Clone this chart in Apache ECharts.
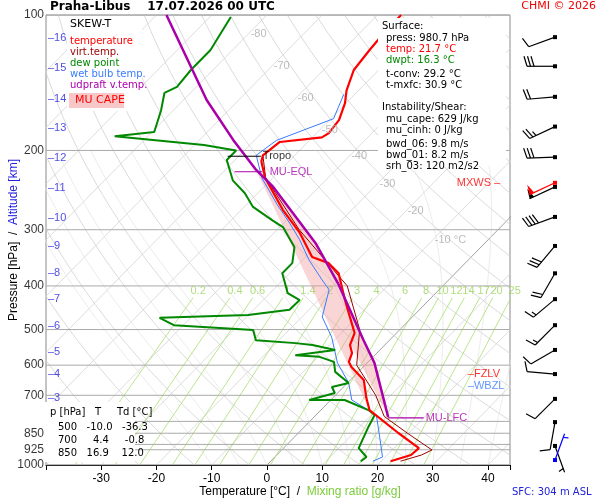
<!DOCTYPE html>
<html><head><meta charset="utf-8">
<script src="https://cdn.jsdelivr.net/npm/echarts@6/dist/echarts.min.js"></script>
<style>html,body{margin:0;padding:0;background:#fff}#c{width:600px;height:500px}</style>
</head><body><div id="c"></div>
<script>
// ---- data ----
var tempP = [980.7,950,917,849,755,710,647,606,590,564,541,509,430,375,356,345,305,271,230,212,205,191.5,187,183,171,157,147,132.5,119.6,108,100];
var tempT = [21.7,24.3,24.5,18.1,8.8,6.1,2.4,-2.1,-3.5,-4.5,-6.3,-7.6,-15.2,-21.1,-24.7,-28.8,-35.3,-42.5,-51.4,-54.9,-55.8,-55.1,-48.3,-47.8,-48.3,-50.2,-52.2,-54.5,-55.2,-55.7,-55.7];
var virtP = [980.7,950,926,850,780,700,600,500,400,300,230,205];
var virtT = [23.5,26.2,27.2,19.8,12.6,7.3,-1.5,-7.3,-17.3,-36.0,-51.3,-55.8];
var dewP = [980.7,960,917,823,774,755,717,717,692,671,657,621,590,575,570,555,541,536,528,501,489,471,464,452,430,415,375,356,328,296,286,267,249,233,210,200,194.5,186,182,163,149,144.5,132.5,119.6,101];
var dewT = [16.3,16.6,13.6,11.6,10.6,8.6,2.5,-3.9,-0.5,-2.1,0.2,-4.2,-6.2,-9.7,-14.4,-8.1,-13.1,-16.5,-24.2,-26.5,-41.7,-45.6,-30.1,-23.5,-23.4,-26.8,-31.3,-31.3,-33.75,-39.4,-42.5,-48.4,-52.3,-56.8,-61.5,-61.5,-68.3,-86,-79.6,-82.2,-84.7,-83.5,-84,-84,-86.2];
var wbP = [980.7,960,836,774,717,657,593,520,469,408,388,350.5,316,290,264.5,230,205,190,170,150];
var wbT = [18.5,19.5,14,10.9,3.8,0.2,-5.4,-11,-16.3,-19.9,-22.9,-28.8,-34.1,-38.9,-44.3,-52,-57,-56,-49.5,-52];
var parP = [782,593,528,398,321,275,241,221,189.5,154.5,100];
var parT = [13.4,1.3,-4.7,-19,-30.7,-40.2,-48.3,-54.4,-63.9,-75.8,-98.2];
var isobars = [100,200,300,400,500,600,700,800,850,900,925,1000];
var pLabels = [100,200,300,400,500,600,700,850,925,1000];
var kmVals = [1,2,3,4,5,6,7,8,9,10,11,12,13,14,15,16];
var kmP = [912,807,710,628,560,492,427,375,326,283,242,208,178,154,131,112.5];
var mixVals = [0.2,0.4,0.6,1,1.4,2,3,4,6,8,10,12,14,17,20,25];
var isoLabT = [-80,-70,-60,-50,-40,-30,-20,-10];
var isoLabP = [110,130,153,180,206,237,273,316];
var windP = [112,130,152,177,207,241,281,326,375,428,489,555,628,713,803,907];
var windDir = [250,270,265,245,268,245,250,220,210,230,225,240,275,225,190,160];
var windSpd = [10,30,20,25,30,50,40,30,20,15,15,10,10,10,10,5];
var mxwsP = 236, mxwsDir = 245, mxwsSpd = 50;
var sfcWindP = 975, sfcWindDir = 20, sfcWindSpd = 5;
var tropoP = 206, eqlP = 223, lfcP = 786, fzlvP = 628, wbzlP = 667;

// ---- helpers ----
function sk(T,p){return T + 80*Math.log10(1000/p);}
function prof(P,T){return P.map(function(p,i){return [sk(T[i],p),p];});}
var series = [];
function ln(data,color,w,z){series.push({type:'line',data:data,symbol:'none',silent:true,lineStyle:{color:color,width:w},z:z,animation:false});}
var plevs=[];for(var p=1000;p>=100;p-=10)plevs.push(p);
for(var t=-130;t<=40;t+=10){ln([[sk(t,1000),1000],[sk(t,100),100]], t===0?'#888':'#d4d4d4', 0.8, 1);}
for(var th=240;th<=480;th+=10){ln(plevs.map(function(p){return [sk(th*Math.pow(p/1000,0.2857)-273.15,p),p];}),'#d0d0d0',0.8,1);}
function rs(Tk,p){var tc=Tk-273.15;var es=6.112*Math.exp(17.67*tc/(tc+243.5));return 0.622*es/(p-es);}
for(var t0=-10;t0<=40;t0+=5){var Tk=t0+273.15,pts=[];for(var p=1000;p>=200;p-=5){pts.push([sk(Tk-273.15,p),p]);var r=rs(Tk,p);var d=(287*Tk+2.5e6*r)/(p*(1004+2.5e6*2.5e6*r*0.622/(287*Tk*Tk)));Tk-=d*5;}ln(pts,'#e6e6e6',0.8,1);}
function tdw(w,p){var e=w*p/(622+w);var a=Math.log(e/6.112);return 243.5*a/(17.67-a);}
var mixLab=[];
mixVals.forEach(function(w){ln([[sk(tdw(w,1000),1000),1000],[sk(tdw(w,425),425),425]],'#a8e070',0.8,2);mixLab.push({value:[sk(tdw(w,410),410),410],name:String(w)});});
series.push({type:'scatter',data:mixLab,symbolSize:0,clip:false,silent:true,label:{show:true,formatter:'{b}',color:'#9cd65c',fontSize:11},z:3});
isobars.forEach(function(p){ln([[-40,p],[44,p]],'#aaaaaa',1,2);});
var capePoly=[];
parP.forEach(function(p,i){if(p<=782&&p>=221)capePoly.push([sk(parT[i],p),p]);});
tempP.forEach(function(p,i){if(p<782&&p>221)capePoly.push([sk(tempT[i],p),p]);});
series.push({type:'custom',silent:true,z:4,data:[0],renderItem:function(params,api){
  return {type:'polygon',shape:{points:capePoly.map(function(d){return api.coord(d);})},style:{fill:'rgba(240,150,150,0.4)',stroke:'none'}};}});
ln(prof(wbP,wbT),'#3a7bff',1,5);
ln(prof(dewP,dewT),'#008800',2,6);
ln(prof(virtP,virtT),'#990000',1,6);
ln(prof(tempP,tempT),'#ff0000',2.2,7);
ln(prof(parP,parT),'#aa00aa',2.5,8);
ln([[sk(-62,tropoP),tropoP],[sk(-56,tropoP),tropoP]],'#000',1,9);
ln([[sk(-58,eqlP),eqlP],[sk(-53,eqlP),eqlP]],'#aa00aa',1,9);
ln([[sk(13.5,lfcP),lfcP],[sk(20,lfcP),lfcP]],'#aa00aa',1.2,9);
function lab(x,p,text,color,size,pos){return {value:[x,p],label:{formatter:text,color:color,fontSize:size||11,position:pos||'right'}};}
series.push({type:'scatter',symbolSize:0,clip:false,silent:true,z:10,label:{show:true,distance:2},data:[
  lab(sk(-56,tropoP),tropoP,'Tropo','#000',11),
  lab(sk(-52,eqlP),eqlP,'MU-EQL','#aa00aa',11),
  lab(sk(20,lfcP),lfcP,'MU-LFC','#aa00aa',11),
  lab(36,fzlvP,'–FZLV','#ff0000',11),
  lab(36,wbzlP,'–WBZL','#3a7bff',11),
  lab(34,mxwsP,'MXWS –','#ff0000',11)
].concat(isoLabT.map(function(t,i){return lab(sk(t,isoLabP[i]),isoLabP[i],(t===-10?'-10 °C':String(t)),'#aaaaaa',11);}))
 .concat(pLabels.map(function(p){return lab(-40,p,String(p),'#000',12,'left');}))
 .concat(kmVals.map(function(k,i){return lab(-40,kmP[i],'–'+k,'#2222dd',11);}))
});
var windData=windP.map(function(p,i){return {value:[0.5,p],b:{dir:windDir[i],spd:windSpd[i],color:'#000'}};});
windData.push({value:[0.5,mxwsP],b:{dir:mxwsDir,spd:mxwsSpd,color:'#ff0000'}});
windData.push({value:[0.5,sfcWindP],b:{dir:sfcWindDir,spd:sfcWindSpd,color:'#0000ff'}});
series.push({type:'custom',xAxisIndex:1,yAxisIndex:1,silent:true,z:10,data:windData,renderItem:function(params,api){
  var d=windData[params.dataIndex].b;var c=api.coord([api.value(0),api.value(1)]);
  var a=d.dir*Math.PI/180;var L=28;
  var ex=c[0]+Math.sin(a)*L, ey=c[1]-Math.cos(a)*L;
  var ch=[{type:'line',shape:{x1:c[0],y1:c[1],x2:ex,y2:ey},style:{stroke:d.color,lineWidth:1.2}},
          {type:'rect',shape:{x:c[0]-2,y:c[1]-2,width:4,height:4},style:{fill:d.color}}];
  var dx=(ex-c[0])/L,dy=(ey-c[1])/L;var px=-dy,py=dx;var s=d.spd,pos=0;
  while(s>=50){var bx=ex-dx*pos,by=ey-dy*pos;ch.push({type:'polygon',shape:{points:[[bx,by],[bx+px*10-dx*2,by+py*10-dy*2],[bx-dx*5,by-dy*5]]},style:{fill:d.color}});s-=50;pos+=6;}
  while(s>=10){var bx=ex-dx*pos,by=ey-dy*pos;ch.push({type:'line',shape:{x1:bx,y1:by,x2:bx+px*10+dx*3,y2:by+py*10+dy*3},style:{stroke:d.color,lineWidth:1.2}});s-=10;pos+=3.5;}
  if(s>=5){var bx=ex-dx*(pos||4),by=ey-dy*(pos||4);ch.push({type:'line',shape:{x1:bx,y1:by,x2:bx+px*5+dx*1.5,y2:by+py*5+dy*1.5},style:{stroke:d.color,lineWidth:1.2}});}
  return {type:'group',children:ch};}});

var chart=echarts.init(document.getElementById('c'));
function txt(x,y,text,color,size,weight){return {type:'text',left:x,top:y,z:100,style:{text:text,fill:color||'#000',font:(weight||'normal')+' '+(size||11)+'px "DejaVu Sans", sans-serif'}};}
chart.setOption({
  animation:false,
  grid:[{left:40,right:90,top:15,bottom:35,show:true,borderColor:'#888',borderWidth:1},{left:515,width:80,top:15,bottom:35,show:false}],
  xAxis:[{type:'value',min:-40,max:44,interval:10,splitLine:{show:false},axisLine:{lineStyle:{color:'#000'}},axisTick:{show:true},
    axisLabel:{fontSize:12,color:'#000',formatter:function(v){return (v===-40||v===44)?'':v;}}},
    {gridIndex:1,type:'value',min:0,max:1,show:false}],
  yAxis:[{type:'log',min:100,max:1000,inverse:true,axisLabel:{show:false},splitLine:{show:false},axisTick:{show:false},axisLine:{show:false},
    name:'{a|Pressure [hPa]}{c|  /  }{b|Altitude [km]}',nameLocation:'middle',nameGap:26,nameTextStyle:{rich:{a:{color:'#000',fontSize:12},b:{color:'#2222dd',fontSize:12},c:{color:'#000',fontSize:12}}}},
    {gridIndex:1,type:'log',min:100,max:1000,inverse:true,show:false}],
  series:series,
  graphic:[
    txt(50,1,'Praha-Libus    17.07.2026 00 UTC','#000',12,'bold'),
    {type:'text',right:4,top:1,z:100,style:{text:'CHMI © 2026',fill:'#ee0000',font:'11px "DejaVu Sans", sans-serif'}},
    {type:'rect',z:99,shape:{x:67,y:16,width:75,height:95},style:{fill:'#fff'}},
    txt(70,19,'SKEW-T','#000',11),
    txt(70,36,'temperature','#ff0000',10),
    txt(70,47,'virt.temp.','#990000',10),
    txt(70,58,'dew point','#008800',10),
    txt(70,69,'wet bulb temp.','#3a7bff',10),
    txt(70,80,'udpraft v.temp.','#aa00aa',10),
    {type:'rect',z:99,shape:{x:69,y:93,width:55,height:15},style:{fill:'#f8c8c8'}},
    txt(75,95,'MU CAPE','#ff0000',11),
    {type:'rect',z:99,shape:{x:378,y:18,width:128,height:148},style:{fill:'#fff'}},
    txt(382,21,'Surface:','#000',10),
    txt(386,33,'press: 980.7 hPa','#000',10),
    txt(386,44,'temp: 21.7 °C','#ff0000',10),
    txt(386,55,'dwpt: 16.3 °C','#008800',10),
    txt(386,69,'t-conv: 29.2 °C','#000',10),
    txt(386,80,'t-mxfc: 30.9 °C','#000',10),
    txt(382,102,'Instability/Shear:','#000',10),
    txt(386,114,'mu_cape: 629 J/kg','#000',10),
    txt(386,125,'mu_cinh: 0 J/kg','#000',10),
    txt(386,139,'bwd_06: 9.8 m/s','#000',10),
    txt(386,150,'bwd_01: 8.2 m/s','#000',10),
    txt(386,161,'srh_03: 120 m2/s2','#000',10),
    {type:'rect',z:99,shape:{x:45,y:402,width:90,height:60},style:{fill:'#fff'}},
    txt(50,407,'p [hPa]   T     Td [°C]','#000',10),
    txt(58,422,'500   -10.0   -36.3','#000',10),
    txt(58,435,'700     4.4     -0.8','#000',10),
    txt(58,448,'850   16.9    12.0','#000',10),
    {type:'text',left:'center',top:486,z:100,style:{rich:{a:{fill:'#000',fontSize:12},b:{fill:'#7ccc3c',fontSize:12}},text:'{a|Temperature [°C]}{a|  /  }{b|Mixing ratio [g/kg]}',font:'12px sans-serif'}},
    txt(512,487,'SFC: 304 m ASL','#2222dd',10)
  ]
});
</script></body></html>
